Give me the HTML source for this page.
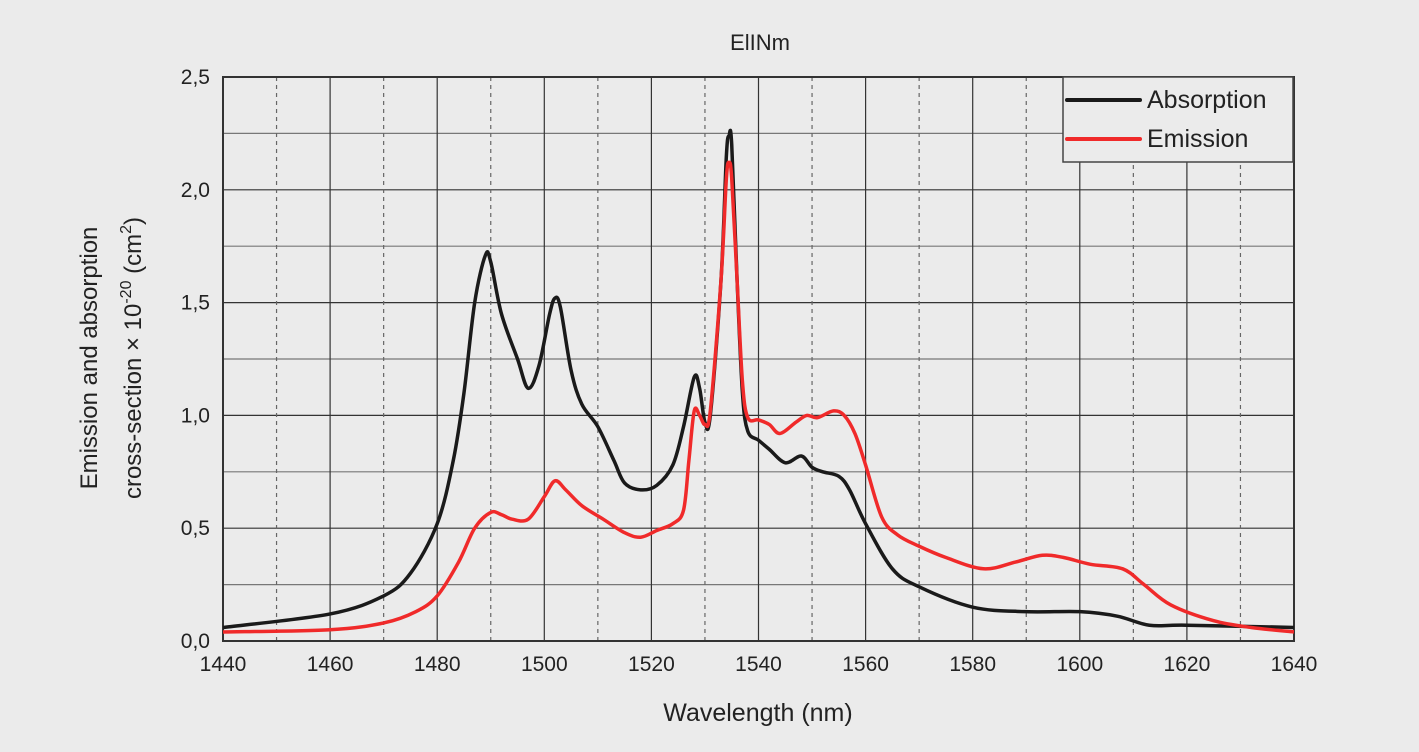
<!DOCTYPE html>
<html><head><meta charset="utf-8"><style>
body{margin:0;background:#ebebeb;width:1419px;height:752px;overflow:hidden}
svg{display:block;font-family:"Liberation Sans",sans-serif;fill:#222}
</style></head><body>
<svg id="s" width="1419" height="752" xmlns="http://www.w3.org/2000/svg">
<rect width="1419" height="752" fill="#ebebeb"/>
<g id="grid"></g>
<rect x="223" y="77" width="1071" height="564" fill="none" stroke="#333" stroke-width="2"/>
<text x="760" y="50" font-size="22" text-anchor="middle">ElINm</text>
<g id="ticks" font-size="21"></g>
<text x="758" y="721" font-size="25" text-anchor="middle">Wavelength (nm)</text>
<text transform="translate(97,358) rotate(-90)" font-size="24" text-anchor="middle">Emission and absorption</text>
<text transform="translate(141,358) rotate(-90)" font-size="24" text-anchor="middle">cross-section × 10<tspan dy="-10" font-size="16">-20</tspan><tspan dy="10"> (cm</tspan><tspan dy="-10" font-size="16">2</tspan><tspan dy="10">)</tspan></text>
<path id="abs" fill="none" stroke="#1a1a1a" stroke-width="3.5"/>
<path id="em" fill="none" stroke="#f02a2a" stroke-width="3.5"/>
<rect x="1063" y="77" width="230" height="85" fill="#ebebeb" stroke="#444" stroke-width="1.5"/>
<line x1="1067" y1="100" x2="1140" y2="100" stroke="#1a1a1a" stroke-width="4" stroke-linecap="round"/>
<line x1="1067" y1="139" x2="1140" y2="139" stroke="#f02a2a" stroke-width="4" stroke-linecap="round"/>
<text x="1147" y="108" font-size="25">Absorption</text>
<text x="1147" y="147" font-size="25">Emission</text>
</svg>
<script>
const X=n=>223+(n-1440)*5.355,Y=v=>641-v*225.6;
let g='',t='';
for(let i=1;i<10;i++){let y=Y(i*0.25);g+=`<line x1="223" x2="1294" y1="${y}" y2="${y}" stroke="${i%2?'#777':'#333'}" stroke-width="1.2"/>`;}
for(let n=1450;n<1640;n+=10){let x=X(n);g+=`<line x1="${x}" x2="${x}" y1="77" y2="641" stroke="${n%20?'#666':'#333'}" stroke-width="1.2" ${n%20?'stroke-dasharray="4,4"':''}/>`;}
for(let n=1440;n<=1640;n+=20)t+=`<text x="${X(n)}" y="671" text-anchor="middle">${n}</text>`;
for(let i=0;i<=5;i++)t+=`<text x="210" y="${Y(i*0.5)+7}" text-anchor="end">${(i*0.5).toFixed(1).replace('.',',')}</text>`;
document.getElementById('grid').innerHTML=g;document.getElementById('ticks').innerHTML=t;
const A=[[1440,.06],[1460,.12],[1470,.2],[1475,.3],[1480,.52],[1483,.8],[1485,1.1],[1487,1.5],[1489,1.71],[1490,1.68],[1492,1.45],[1495,1.25],[1497,1.12],[1499,1.22],[1501,1.45],[1502,1.52],[1503,1.48],[1505,1.2],[1507,1.05],[1510,.95],[1513,.8],[1515,.7],[1518,.67],[1521,.69],[1524,.78],[1526,.95],[1528,1.17],[1529,1.12],[1530,.97],[1531,1.0],[1533,1.6],[1534,2.15],[1534.5,2.24],[1535,2.2],[1536,1.6],[1537,1.1],[1538,.93],[1540,.89],[1542,.85],[1545,.79],[1548,.82],[1550,.77],[1552,.75],[1555,.73],[1557,.67],[1560,.52],[1565,.32],[1570,.24],[1580,.15],[1590,.13],[1600,.13],[1607,.11],[1613,.07],[1620,.07],[1640,.06]];
const E=[[1440,.04],[1460,.05],[1470,.08],[1476,.13],[1480,.2],[1484,.35],[1487,.5],[1490,.57],[1492,.56],[1494,.54],[1497,.54],[1500,.64],[1502,.71],[1504,.67],[1507,.6],[1511,.54],[1515,.48],[1518,.46],[1521,.49],[1524,.52],[1526,.58],[1527,.8],[1528,1.02],[1529,1.0],[1530,.96],[1531,1.02],[1533,1.6],[1534,2.05],[1534.5,2.12],[1535,2.05],[1536,1.6],[1537,1.15],[1538,.99],[1540,.98],[1542,.96],[1544,.92],[1547,.97],[1549,1.0],[1551,.99],[1554,1.02],[1556,1.0],[1558,.92],[1560,.78],[1563,.55],[1566,.47],[1570,.42],[1575,.37],[1582,.32],[1588,.35],[1593,.38],[1597,.37],[1602,.34],[1608,.32],[1612,.25],[1617,.16],[1625,.09],[1632,.06],[1640,.04]];
function path(d){const p=d.map(a=>[X(a[0]),Y(a[1])]);let s=`M${p[0]}`;for(let i=0;i<p.length-1;i++){const p0=p[i-1]||p[i],p1=p[i],p2=p[i+1],p3=p[i+2]||p2;const c1=[p1[0]+(p2[0]-p0[0])/6,p1[1]+(p2[1]-p0[1])/6],c2=[p2[0]-(p3[0]-p1[0])/6,p2[1]-(p3[1]-p1[1])/6];s+=`C${c1} ${c2} ${p2}`;}return s;}
document.getElementById('abs').setAttribute('d',path(A));
document.getElementById('em').setAttribute('d',path(E));
</script>
</body></html>
